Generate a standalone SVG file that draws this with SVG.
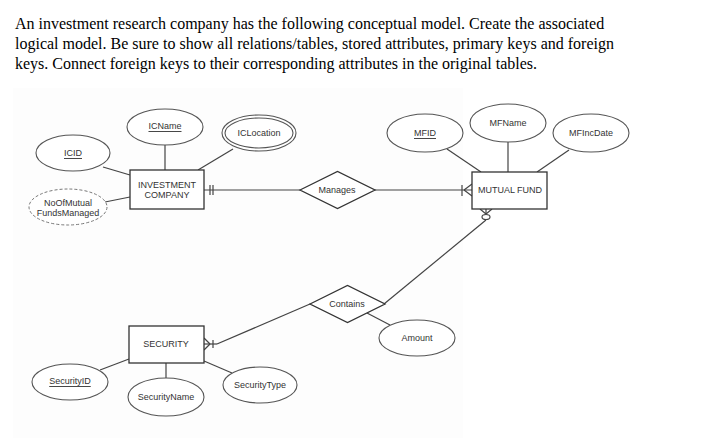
<svg xmlns="http://www.w3.org/2000/svg" width="718" height="440" viewBox="0 0 718 440">
<style>
.q{font-family:"Liberation Serif","Times New Roman",serif;font-size:16px;fill:#000}
.t{font-family:"Liberation Sans",Arial,sans-serif;font-size:9px;fill:#333;text-anchor:middle;dominant-baseline:central}
.u{text-decoration:underline}
.s{fill:#fff;stroke:#555;stroke-width:1.1}
.e{fill:#fff;stroke:#333;stroke-width:1.3}
.d{fill:#fff;stroke:#777;stroke-width:1;stroke-dasharray:3 2}
.c{fill:none;stroke:#444;stroke-width:1.2}
</style>
<rect width="718" height="440" fill="#fff"/>
<rect x="13" y="88" width="450" height="350" fill="#fdfdfd"/>
<text class="q" x="15" y="29">An investment research company has the following conceptual model. Create the associated</text>
<text class="q" x="15" y="49">logical model. Be sure to show all relations/tables, stored attributes, primary keys and foreign</text>
<text class="q" x="15" y="69">keys. Connect foreign keys to their corresponding attributes in the original tables.</text>
<g id="connectors">
<line class="c" x1="165" y1="145" x2="165" y2="170"/>
<line class="c" x1="103" y1="167" x2="130" y2="175"/>
<line class="c" x1="233" y1="149" x2="198" y2="170"/>
<line class="c" x1="105" y1="202" x2="130" y2="197"/>
<line class="c" x1="204" y1="190" x2="300" y2="190"/>
<line class="c" x1="210" y1="185" x2="210" y2="195"/>
<line class="c" x1="213" y1="185" x2="213" y2="195"/>
<line class="c" x1="375" y1="190" x2="472" y2="190"/>
<line class="c" x1="462" y1="185" x2="462" y2="196"/>
<line class="c" x1="464" y1="190" x2="472" y2="184"/>
<line class="c" x1="464" y1="190" x2="472" y2="196"/>
<line class="c" x1="447" y1="149" x2="481" y2="172"/>
<line class="c" x1="508" y1="142" x2="508" y2="172"/>
<line class="c" x1="569" y1="150" x2="537" y2="172"/>
<line class="c" x1="480" y1="209" x2="486" y2="214"/>
<line class="c" x1="492" y1="209" x2="486" y2="214"/>
<line class="c" x1="486" y1="209" x2="486" y2="214"/>
<ellipse class="c" cx="486" cy="217" rx="4" ry="2.5"/>
<line class="c" x1="486" y1="220" x2="384" y2="304"/>
<line class="c" x1="310" y1="304" x2="217" y2="344"/>
<line class="c" x1="204" y1="344" x2="217" y2="344"/>
<line class="c" x1="210" y1="344" x2="204" y2="338"/>
<line class="c" x1="210" y1="344" x2="204" y2="350"/>
<line class="c" x1="213" y1="340" x2="213" y2="348"/>
<line class="c" x1="367" y1="313" x2="390" y2="325"/>
<line class="c" x1="100" y1="370" x2="129" y2="359"/>
<line class="c" x1="166" y1="363" x2="166" y2="378"/>
<line class="c" x1="204" y1="361" x2="232" y2="373"/>
</g>
<g id="investment_company"><rect class="e" x="130" y="170" width="74" height="39"/><text class="t" x="167" y="185">INVESTMENT</text><text class="t" x="167" y="195">COMPANY</text></g>
<g id="icname"><ellipse class="s" cx="165" cy="127" rx="38" ry="18"/><text class="t u" x="165" y="126">ICName</text></g>
<g id="iclocation"><ellipse class="s" cx="259" cy="133" rx="37" ry="18"/><ellipse class="s" cx="259" cy="133" rx="34" ry="15"/><text class="t" x="259" y="133">ICLocation</text></g>
<g id="icid"><ellipse class="s" cx="73" cy="153" rx="37" ry="18"/><text class="t u" x="73" y="153">ICID</text></g>
<g id="noofmutual"><ellipse class="d" cx="68" cy="207" rx="39" ry="18"/><text class="t" x="68" y="203">NoOfMutual</text><text class="t" x="68" y="213">FundsManaged</text></g>
<g id="manages"><polygon class="e" points="300,190 337.5,171.5 375,190 337.5,208.5"/><text class="t" x="337" y="190">Manages</text></g>
<g id="mutual_fund"><rect class="e" x="472" y="172" width="75" height="37"/><text class="t" x="510" y="190">MUTUAL FUND</text></g>
<g id="mfid"><ellipse class="s" cx="425" cy="133" rx="38" ry="19"/><text class="t u" x="425" y="133">MFID</text></g>
<g id="mfname"><ellipse class="s" cx="508" cy="123" rx="38" ry="19"/><text class="t" x="508" y="123">MFName</text></g>
<g id="mfincdate"><ellipse class="s" cx="591" cy="133" rx="38" ry="19"/><text class="t" x="591" y="133">MFIncDate</text></g>
<g id="contains"><polygon class="e" points="310,304 347.5,285.5 385,304 347.5,322.5"/><text class="t" x="347" y="304">Contains</text></g>
<g id="amount"><ellipse class="s" cx="417" cy="338" rx="38" ry="18"/><text class="t" x="417" y="338">Amount</text></g>
<g id="security"><rect class="e" x="129" y="326" width="75" height="37"/><text class="t" x="166" y="344">SECURITY</text></g>
<g id="securityid"><ellipse class="s" cx="70" cy="382" rx="38" ry="18"/><text class="t u" x="70" y="381">SecurityID</text></g>
<g id="securityname"><ellipse class="s" cx="166" cy="397" rx="38" ry="19"/><text class="t" x="166" y="397">SecurityName</text></g>
<g id="securitytype"><ellipse class="s" cx="260" cy="385" rx="37" ry="18"/><text class="t" x="260" y="385">SecurityType</text></g>
</svg>
